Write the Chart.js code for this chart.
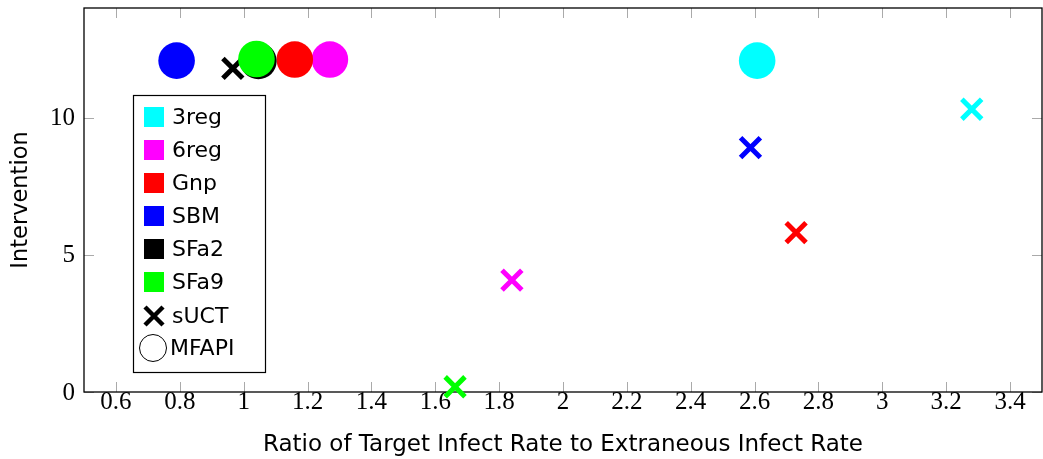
<!DOCTYPE html>
<html>
<head>
<meta charset="utf-8">
<script src="https://cdn.jsdelivr.net/npm/chart.js@4"></script>
<style>
  html, body { margin: 0; padding: 0; background: #fff; }
  #wrap { width: 1043px; height: 459px; }
</style>
</head>
<body>
<div id="wrap"><canvas id="chart"></canvas></div>
<script>
// graph families, in legend order
const graphs = ['3reg', '6reg', 'Gnp', 'SBM', 'SFa2', 'SFa9'];
const colors = ['#00ffff', '#ff00ff', '#ff0000', '#0000ff', '#000000', '#00ff00'];

// sUCT results (crosses)
const suctRatio = [3.28, 1.84, 2.73, 2.587, 0.966, 1.662];
const suctIntervention = [10.31, 4.08, 5.81, 8.91, 11.8, 0.19];

// MFAPI results (circles)
const mfapiRatio = [2.608, 1.27, 1.16, 0.79, 1.046, 1.04];
const mfapiIntervention = [12.08, 12.12, 12.12, 12.08, 12.07, 12.14];

const xTicks = [0.6, 0.8, 1, 1.2, 1.4, 1.6, 1.8, 2, 2.2, 2.4, 2.6, 2.8, 3, 3.2, 3.4];
const yTicks = [0, 5, 10];

const SANS = '"DejaVu Sans", sans-serif';
const SERIF = '"Liberation Serif", serif';

const datasets = [];
graphs.forEach((g, i) => {
  datasets.push({
    label: g + ' sUCT',
    data: [{ x: suctRatio[i], y: suctIntervention[i] }],
    pointStyle: 'crossRot',
    pointRadius: 14,
    borderWidth: 5,
    borderColor: colors[i],
    backgroundColor: colors[i],
    clip: false
  });
});
graphs.forEach((g, i) => {
  datasets.push({
    label: g + ' MFAPI',
    data: [{ x: mfapiRatio[i], y: mfapiIntervention[i] }],
    pointStyle: 'circle',
    pointRadius: 18.3,
    borderWidth: 0,
    backgroundColor: colors[i],
    borderColor: colors[i],
    clip: false
  });
});
// chart.js draws the last dataset first: circles end up over crosses, SFa9 over SFa2
datasets.reverse();

const frame = {
  id: 'frame',
  beforeDatasetsDraw(chart) {
    const { ctx, chartArea: a, scales } = chart;
    ctx.save();
    ctx.strokeStyle = '#aaaaaa';
    ctx.lineWidth = 1;
    const t = 10;
    xTicks.forEach(v => {
      const px = Math.round(scales.x.getPixelForValue(v)) + 0.5;
      ctx.beginPath();
      ctx.moveTo(px, a.bottom); ctx.lineTo(px, a.bottom - t);
      ctx.moveTo(px, a.top); ctx.lineTo(px, a.top + t);
      ctx.stroke();
    });
    yTicks.forEach(v => {
      const py = Math.round(scales.y.getPixelForValue(v)) + 0.5;
      ctx.beginPath();
      ctx.moveTo(a.left, py); ctx.lineTo(a.left + t, py);
      ctx.moveTo(a.right, py); ctx.lineTo(a.right - t, py);
      ctx.stroke();
    });
    ctx.strokeStyle = '#000';
    ctx.lineWidth = 1.3;
    ctx.strokeRect(a.left, a.top, a.right - a.left, a.bottom - a.top);

    // y tick labels drawn here so they add no padding above the plot
    ctx.fillStyle = '#000';
    ctx.font = '25px ' + SERIF;
    ctx.textAlign = 'right';
    ctx.textBaseline = 'middle';
    yTicks.forEach(v => {
      ctx.fillText(String(v), a.left - 9, scales.y.getPixelForValue(v) + 1);
    });
    ctx.restore();
  },
  afterDraw(chart) {
    const { ctx } = chart;
    const bx = 133, by = 95, bw = 132, bh = 277;
    ctx.save();
    ctx.fillStyle = '#fff';
    ctx.fillRect(bx, by, bw, bh);
    ctx.strokeStyle = '#000';
    ctx.lineWidth = 1.2;
    ctx.strokeRect(bx + 0.5, by + 0.5, bw, bh);
    ctx.font = '22px ' + SANS;
    ctx.textBaseline = 'middle';
    const rowH = 33;
    const y0 = 117;
    graphs.forEach((g, i) => {
      const cy = y0 + i * rowH;
      ctx.fillStyle = colors[i];
      ctx.fillRect(144, cy - 10, 20, 20);
      ctx.fillStyle = '#000';
      ctx.fillText(g, 172, cy + 1);
    });
    // sUCT
    let cy = y0 + 6 * rowH + 1;
    ctx.strokeStyle = '#000';
    ctx.lineWidth = 4.5;
    ctx.beginPath();
    ctx.moveTo(145, cy - 9); ctx.lineTo(163, cy + 9);
    ctx.moveTo(163, cy - 9); ctx.lineTo(145, cy + 9);
    ctx.stroke();
    ctx.fillStyle = '#000';
    ctx.fillText('sUCT', 172, cy + 1);
    // MFAPI
    cy = y0 + 7 * rowH;
    ctx.lineWidth = 1;
    ctx.beginPath();
    ctx.arc(153, cy, 13.5, 0, Math.PI * 2);
    ctx.stroke();
    ctx.fillText('MFAPI', 170, cy + 1);
    ctx.restore();
  }
};

new Chart(document.getElementById('chart'), {
  type: 'scatter',
  data: { datasets },
  options: {
    responsive: true,
    maintainAspectRatio: false,
    animation: false,
    events: [],
    layout: { autoPadding: false, padding: { top: 8, right: 1, left: 0, bottom: 0 } },
    plugins: { legend: { display: false }, tooltip: { enabled: false } },
    scales: {
      x: {
        type: 'linear',
        min: 0.5,
        max: 3.5,
        grid: { display: false, drawTicks: false },
        border: { display: false },
        afterBuildTicks: s => { s.ticks = xTicks.map(v => ({ value: v })); },
        afterFit: s => { s.height = 67; },
        ticks: {
          color: '#000',
          font: { family: SERIF, size: 25 },
          padding: -5,
          maxRotation: 0,
          autoSkip: false,
          callback: v => String(v)
        },
        title: {
          display: true,
          text: 'Ratio of Target Infect Rate to Extraneous Infect Rate',
          color: '#000',
          font: { family: SANS, size: 23 },
          padding: { top: 0, bottom: 0 }
        }
      },
      y: {
        type: 'linear',
        min: 0,
        max: 14,
        grid: { display: false, drawTicks: false },
        border: { display: false },
        afterBuildTicks: s => { s.ticks = yTicks.map(v => ({ value: v })); },
        afterFit: s => { s.width = 84; },
        ticks: { display: false },
        title: {
          display: true,
          text: 'Intervention',
          color: '#000',
          font: { family: SANS, size: 22.5 },
          padding: { top: 8, bottom: 0 }
        }
      }
    }
  },
  plugins: [frame]
});
</script>
</body>
</html>
